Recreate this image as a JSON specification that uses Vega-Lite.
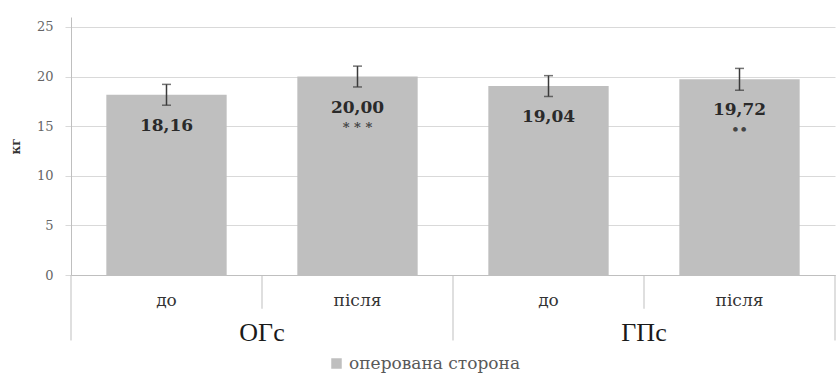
{
  "$schema": "https://vega.github.io/schema/vega-lite/v6.json",
  "width": 764,
  "height": 258,
  "autosize": "none",
  "padding": {"left": 71, "top": 17, "right": 1, "bottom": 98},
  "background": "white",
  "config": {
    "view": {"stroke": null},
    "font": "DejaVu Serif",
    "legend": {"labelFont": "DejaVu Serif", "labelLimit": 400}
  },
  "data": {"values": [
    {"group": "ОГс", "phase": "до", "cat": "ОГс до", "value": 18.16, "lo": 17.11, "hi": 19.21, "label": "18,16", "sig": "", "series": "оперована сторона"},
    {"group": "ОГс", "phase": "після", "cat": "ОГс після", "value": 20.0, "lo": 18.95, "hi": 21.05, "label": "20,00", "sig": "* * *", "series": "оперована сторона"},
    {"group": "ГПс", "phase": "до", "cat": "ГПс до", "value": 19.04, "lo": 17.99, "hi": 20.09, "label": "19,04", "sig": "", "series": "оперована сторона"},
    {"group": "ГПс", "phase": "після", "cat": "ГПс після", "value": 19.72, "lo": 18.62, "hi": 20.82, "label": "19,72", "sig": "••", "series": "оперована сторона"}
  ]},
  "encoding": {
    "x": {
      "field": "cat", "type": "nominal", "sort": null,
      "scale": {"paddingInner": 0, "paddingOuter": 0},
      "axis": {
        "title": null, "labelExpr": "split(datum.label, ' ')[1]", "ticks": false,
        "domainColor": "#bfbfbf", "labelFont": "DejaVu Serif", "labelFontSize": 17,
        "labelColor": "#333333", "labelPadding": 17, "labelAngle": 0, "grid": false
      }
    }
  },
  "layer": [
    {
      "mark": {"type": "bar", "width": {"band": 0.63}},
      "encoding": {
        "y": {
          "field": "value", "type": "quantitative", "title": "кг",
          "scale": {"domain": [0, 25]},
          "axis": {
            "values": [0, 5, 10, 15, 20, 25], "gridColor": "#d9d9d9", "tickColor": "#d9d9d9",
            "tickSize": 6, "domainColor": "#bfbfbf", "labelFont": "DejaVu Serif",
            "labelFontSize": 13, "labelColor": "#666666", "labelPadding": 12,
            "titleFont": "DejaVu Serif", "titleFontWeight": "bold", "titleFontSize": 12,
            "titleColor": "#333333", "titlePadding": 14
          }
        },
        "color": {
          "field": "series", "type": "nominal", "scale": {"range": ["#bfbfbf"]},
          "legend": {
            "title": null, "orient": "none", "legendX": 257, "legendY": 338,
            "symbolType": "square", "symbolSize": 110, "symbolStrokeWidth": 0,
            "labelFont": "DejaVu Serif", "labelFontSize": 17, "labelColor": "#595959",
            "labelOffset": 4, "labelLimit": 400
          }
        }
      }
    },
    {
      "mark": {"type": "rule", "color": "#3a3a3a", "strokeWidth": 1.5},
      "encoding": {"y": {"field": "lo", "type": "quantitative", "title": "кг"}, "y2": {"field": "hi"}}
    },
    {
      "mark": {"type": "tick", "color": "#3a3a3a", "size": 9, "thickness": 1.5},
      "encoding": {"y": {"field": "lo", "type": "quantitative", "title": "кг"}}
    },
    {
      "mark": {"type": "tick", "color": "#3a3a3a", "size": 9, "thickness": 1.5},
      "encoding": {"y": {"field": "hi", "type": "quantitative", "title": "кг"}}
    },
    {
      "mark": {"type": "text", "dy": 31, "font": "DejaVu Serif", "fontWeight": "bold", "fontSize": 17, "color": "#2a2a2a", "baseline": "middle"},
      "encoding": {"y": {"field": "value", "type": "quantitative", "title": "кг"}, "text": {"field": "label"}}
    },
    {
      "mark": {"type": "text", "dy": 51, "font": "DejaVu Serif", "fontWeight": "bold", "fontSize": 13, "color": "#444444", "baseline": "middle"},
      "encoding": {"y": {"field": "value", "type": "quantitative", "title": "кг"}, "text": {"field": "sig"}}
    },
    {
      "transform": [{"filter": "datum.phase == 'до'"}],
      "mark": {"type": "rule", "color": "#bfbfbf", "strokeWidth": 1},
      "encoding": {"x": {"field": "cat", "type": "nominal", "sort": null, "bandPosition": 0}, "y": {"datum": 0}, "y2": {"datum": -6.6}}
    },
    {
      "transform": [{"filter": "datum.phase == 'після'"}],
      "mark": {"type": "rule", "color": "#bfbfbf", "strokeWidth": 1},
      "encoding": {"x": {"field": "cat", "type": "nominal", "sort": null, "bandPosition": 0}, "y": {"datum": 0}, "y2": {"datum": -3.4}}
    },
    {
      "transform": [{"filter": "datum.cat == 'ГПс після'"}],
      "mark": {"type": "rule", "color": "#bfbfbf", "strokeWidth": 1},
      "encoding": {"x": {"field": "cat", "type": "nominal", "sort": null, "bandPosition": 1}, "y": {"datum": 0}, "y2": {"datum": -6.6}}
    },
    {
      "transform": [{"filter": "datum.phase == 'після'"}],
      "mark": {"type": "text", "font": "Liberation Serif", "fontSize": 26, "color": "#1a1a1a", "baseline": "middle"},
      "encoding": {"x": {"field": "cat", "type": "nominal", "sort": null, "bandPosition": 0}, "y": {"datum": -5.8}, "text": {"field": "group"}}
    }
  ]
}
